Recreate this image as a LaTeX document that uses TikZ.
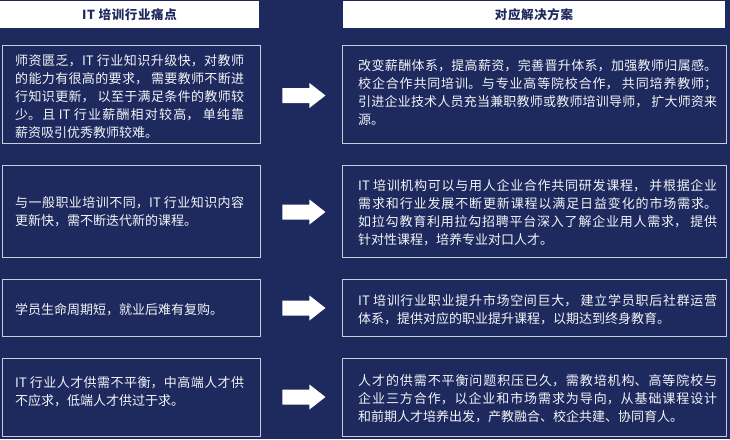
\documentclass[tikz,border=0pt]{standalone}
\usepackage{fontspec}
\setmainfont{Noto Sans CJK SC}
\newfontfamily\headfont{Noto Sans CJK SC}[LetterSpace=5]
\XeTeXlinebreaklocale "zh"
\XeTeXlinebreakskip=0pt plus 3pt minus 0.2pt
\XeTeXlinebreakpenalty=10000
\definecolor{navy}{HTML}{1E2A5E}
\definecolor{boxline}{HTML}{C9CDDA}
\definecolor{txt}{HTML}{F2F3F7}
\begin{document}
\begin{tikzpicture}[x=1pt,y=-1pt,
  box/.style={draw=boxline, line width=0.9pt, inner sep=0pt},
  head/.style={fill=white, inner sep=0pt, text=navy, font=\headfont\bfseries\fontsize{12.5}{14}\selectfont},
  body/.style={text=txt, align=justify, inner sep=0pt, anchor=west, font=\fontsize{13}{18}\selectfont},
  lbody/.style={body, text width=229pt},
  rbody/.style={body, text width=359pt},
  arrowshape/.style={fill=white}]
\fill[navy] (0,0) rectangle (730,439);
\useasboundingbox (0,0) rectangle (730,439);

% headers
\node[head, minimum width=259pt, minimum height=27pt] (hl) at (129.5,14.5) {IT 培训行业痛点};
\node[head, minimum width=382pt, minimum height=27pt] (hr) at (534,14.5) {对应解决方案};

% left boxes
\node[box, minimum width=258pt, minimum height=98pt] (l1) at (131,94) {};
\node[box, minimum width=258pt, minimum height=92pt] (l2) at (131,211) {};
\node[box, minimum width=258pt, minimum height=57pt] (l3) at (131,307.5) {};
\node[box, minimum width=258pt, minimum height=78pt] (l4) at (131,397) {};
% right boxes
\node[box, minimum width=384pt, minimum height=98pt] (r1) at (534,94) {};
\node[box, minimum width=384pt, minimum height=92pt] (r2) at (534,211) {};
\node[box, minimum width=384pt, minimum height=57pt] (r3) at (534,307.5) {};
\node[box, minimum width=384pt, minimum height=78pt] (r4) at (534,397) {};

% texts
\node[lbody] (t1) at (15,96.5) {师资匮乏，IT 行业知识升级快，对教师\linebreak 的能力有很高的要求， 需要教师不断进\linebreak 行知识更新， 以至于满足条件的教师较\linebreak 少。且 IT 行业薪酬相对较高， 单纯靠\linebreak 薪资吸引优秀教师较难。};
\node[lbody] (t2) at (15,211.5) {与一般职业培训不同，IT 行业知识内容\linebreak 更新快，需不断迭代新的课程。};
\node[lbody] (t3) at (15,309.5) {学员生命周期短，就业后难有复购。};
\node[lbody] (t4) at (15,391.5) {IT 行业人才供需不平衡，中高端人才供\linebreak 不应求，低端人才供过于求。};

\node[rbody] (s1) at (358,92.5) {改变薪酬体系，提高薪资，完善晋升体系，加强教师归属感。\linebreak 校企合作共同培训。与专业高等院校合作， 共同培养教师；\linebreak 引进企业技术人员充当兼职教师或教师培训导师， 扩大师资来\linebreak 源。};
\node[rbody] (s2) at (358,212.5) {IT 培训机构可以与用人企业合作共同研发课程， 并根据企业\linebreak 需求和行业发展不断更新课程以满足日益变化的市场需求。\linebreak 如拉勾教育利用拉勾招聘平台深入了解企业用人需求， 提供\linebreak 针对性课程，培养专业对口人才。};
\node[rbody] (s3) at (358,309.5) {IT 培训行业职业提升市场空间巨大， 建立学员职后社群运营\linebreak 体系，提供对应的职业提升课程，以期达到终身教育。};
\node[rbody] (s4) at (358,398.5) {人才的供需不平衡问题积压已久，需教培机构、高等院校与\linebreak 企业三方合作，以企业和市场需求为导向，从基础课程设计\linebreak 和前期人才培养出发，产教融合、校企共建、协同育人。};

% arrows
\foreach \b/\dy in {1/1.5, 2/1, 3/0.5, 4/0} {
  \fill[arrowshape] ([xshift=22pt,yshift=-\dy pt]l\b.east) ++(0,-7.5) -- ++(27,0) -- ++(0,-5) -- ++(16,12.5) -- ++(-16,12.5) -- ++(0,-5) -- ++(-27,0) -- cycle;
}
\end{tikzpicture}
\end{document}
